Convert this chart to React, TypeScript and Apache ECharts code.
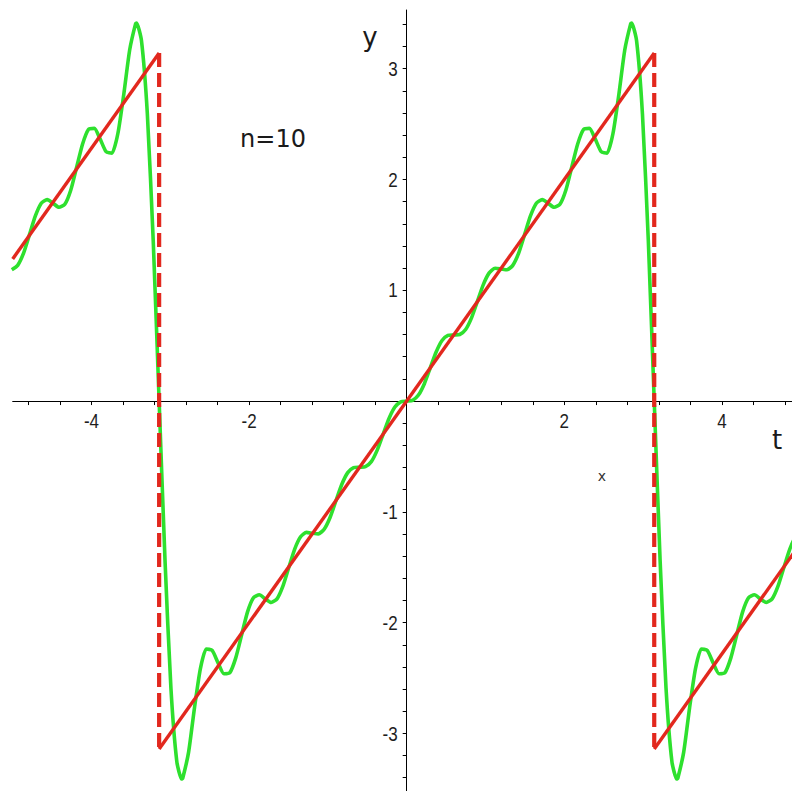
import React, { useEffect, useRef } from "react";
import * as echarts from "echarts";

// Fourier partial sum (n=10): t and y
const greenT = [
  -5.0116, -4.9368, -4.862, -4.7872, -4.7124, -4.6376, -4.5628, -4.488, -4.4132, -4.3384,
  -4.2636, -4.1888, -4.114, -4.0392, -3.9644, -3.8896, -3.8148, -3.74, -3.6652, -3.5904,
  -3.5156, -3.4408, -3.4272, -3.366, -3.2912, -3.2164, -3.1416,
  -3.0668, -2.992, -2.9172, -2.856, -2.8424, -2.7676, -2.6928, -2.618, -2.5432, -2.4684,
  -2.3936, -2.3188, -2.244, -2.1692, -2.0944, -2.0196, -1.9448, -1.87, -1.7952, -1.7204,
  -1.6456, -1.5708, -1.496, -1.4212, -1.3464, -1.2716, -1.1968, -1.122, -1.0472, -0.9724,
  -0.8976, -0.8228, -0.748, -0.6732, -0.5984, -0.5236, -0.4488, -0.374, -0.2992, -0.2244,
  -0.1496, -0.0748, 0,
  0.0748, 0.1496, 0.2244, 0.2992, 0.374, 0.4488, 0.5236, 0.5984, 0.6732, 0.748,
  0.8228, 0.8976, 0.9724, 1.0472, 1.122, 1.1968, 1.2716, 1.3464, 1.4212, 1.496,
  1.5708, 1.6456, 1.7204, 1.7952, 1.87, 1.9448, 2.0196, 2.0944, 2.1692, 2.244,
  2.3188, 2.3936, 2.4684, 2.5432, 2.618, 2.6928, 2.7676, 2.8424, 2.856, 2.9172,
  2.992, 3.0668, 3.1416,
  3.2164, 3.2912, 3.366, 3.4272, 3.4408, 3.5156, 3.5904, 3.6652, 3.74, 3.8148,
  3.8896, 3.9644, 4.0392, 4.114, 4.1888, 4.2636, 4.3384, 4.4132, 4.488, 4.5628,
  4.6376, 4.7124, 4.7872, 4.862, 4.9368, 5.0116,
];
const greenY = [
  1.185, 1.225, 1.336, 1.502, 1.671, 1.786, 1.818, 1.786, 1.749, 1.776,
  1.903, 2.11, 2.318, 2.451, 2.461, 2.364, 2.251, 2.238, 2.415, 2.768,
  3.169, 3.405, 3.412, 3.255, 2.592, 1.443, 0,
  -1.443, -2.592, -3.255, -3.412, -3.405, -3.169, -2.768, -2.415, -2.238, -2.251,
  -2.364, -2.461, -2.451, -2.318, -2.11, -1.903, -1.776, -1.749, -1.786, -1.818,
  -1.786, -1.671, -1.502, -1.336, -1.225, -1.185, -1.193, -1.199, -1.157, -1.051,
  -0.9, -0.751, -0.646, -0.601, -0.597, -0.592, -0.547, -0.443, -0.3, -0.157,
  -0.054, -0.007, 0,
  0.007, 0.054, 0.157, 0.3, 0.443, 0.547, 0.592, 0.597, 0.601, 0.646,
  0.751, 0.9, 1.051, 1.157, 1.199, 1.193, 1.185, 1.225, 1.336, 1.502,
  1.671, 1.786, 1.818, 1.786, 1.749, 1.776, 1.903, 2.11, 2.318, 2.451,
  2.461, 2.364, 2.251, 2.238, 2.415, 2.768, 3.169, 3.405, 3.412, 3.255,
  2.592, 1.443, 0,
  -1.443, -2.592, -3.255, -3.412, -3.405, -3.169, -2.768, -2.415, -2.238, -2.251,
  -2.364, -2.461, -2.451, -2.318, -2.11, -1.903, -1.776, -1.749, -1.786, -1.818,
  -1.786, -1.671, -1.502, -1.336, -1.225, -1.185,
];

// Sawtooth (red): solid pieces and dashed jumps
const redLeftT = [-5, -3.1416];
const redLeftY = [1.2832, 3.1416];
const redMidT = [-3.1416, 3.1416];
const redMidY = [-3.1416, 3.1416];
const redRightT = [3.1416, 5];
const redRightY = [-3.1416, -1.2832];
const jumpLeftT = [-3.1416, -3.1416];
const jumpLeftY = [3.1416, -3.1416];
const jumpRightT = [3.1416, 3.1416];
const jumpRightY = [3.1416, -3.1416];

// Axis ticks and labels
const xTicks = [
  -4.8, -4.4, -4, -3.6, -3.2, -2.8, -2.4, -2, -1.6, -1.2, -0.8, -0.4,
  0.4, 0.8, 1.2, 1.6, 2, 2.4, 2.8, 3.2, 3.6, 4, 4.4, 4.8,
];
const xLabels = [-4, -2, 2, 4];
const yTicks = [
  -3.4, -3.2, -3, -2.8, -2.6, -2.4, -2.2, -2, -1.8, -1.6, -1.4, -1.2, -1, -0.8, -0.6, -0.4, -0.2,
  0.2, 0.4, 0.6, 0.8, 1, 1.2, 1.4, 1.6, 1.8, 2, 2.2, 2.4, 2.6, 2.8, 3, 3.2, 3.4,
];
const yLabels = [-3, -2, -1, 1, 2, 3];

const zip = (a: number[], b: number[]) => a.map((v, i) => [v, b[i]]);

const GREEN = "#2ee02e";
const RED = "#e2281e";
const LABEL_FONT = "'Liberation Sans', Arial, sans-serif";
const TEXT_FONT = "'DejaVu Sans', sans-serif";

export default function App() {
  const ref = useRef<HTMLDivElement>(null);

  useEffect(() => {
    if (!ref.current) return;
    const chart = echarts.init(ref.current, undefined, { renderer: "svg" });
    chart.setOption({
      animation: false,
      backgroundColor: "#ffffff",
      grid: {
        left: 12.7,
        right: 0,
        top: 10,
        bottom: 0,
        containLabel: false,
        outerBoundsMode: "none",
      },
      xAxis: {
        type: "value",
        min: -5,
        max: 4.89,
        axisLine: { onZero: true, lineStyle: { color: "#000", width: 1 } },
        axisTick: { show: true, length: 4, customValues: xTicks, lineStyle: { color: "#000", width: 1 } },
        axisLabel: { show: false },
        splitLine: { show: false },
      },
      yAxis: {
        type: "value",
        min: -3.52,
        max: 3.53,
        axisLine: { onZero: true, lineStyle: { color: "#000", width: 1 } },
        axisTick: { show: true, length: 4, customValues: yTicks, lineStyle: { color: "#000", width: 1 } },
        axisLabel: { show: false },
        splitLine: { show: false },
      },
      series: [
        {
          type: "line",
          data: zip(greenT, greenY),
          showSymbol: false,
          smooth: 0.2,
          lineStyle: { color: GREEN, width: 3.6 },
          z: 2,
        },
        {
          type: "line",
          data: zip(redLeftT, redLeftY),
          showSymbol: false,
          lineStyle: { color: RED, width: 3.4 },
          z: 3,
        },
        {
          type: "line",
          data: zip(redMidT, redMidY),
          showSymbol: false,
          lineStyle: { color: RED, width: 3.4 },
          z: 3,
        },
        {
          type: "line",
          data: zip(redRightT, redRightY),
          showSymbol: false,
          lineStyle: { color: RED, width: 3.4 },
          z: 3,
        },
        {
          type: "line",
          data: zip(jumpLeftT, jumpLeftY),
          showSymbol: false,
          lineStyle: { color: RED, width: 4.2, type: [14, 6] },
          z: 3,
        },
        {
          type: "line",
          data: zip(jumpRightT, jumpRightY),
          showSymbol: false,
          lineStyle: { color: RED, width: 4.2, type: [14, 6] },
          z: 3,
        },
      ],
    });

    // Tick labels placed next to the axes (which cross at the origin), using the chart's own scales
    const labelStyle = { fontSize: 17, fontFamily: LABEL_FONT, fill: "#1e1e1e" };
    const graphics: any[] = [];
    xLabels.forEach((v, i) => {
      const p = chart.convertToPixel({ gridIndex: 0 }, [v, 0]) as number[];
      graphics.push({
        type: "text",
        id: "xl" + i,
        x: p[0],
        y: p[1] + 9,
        scaleY: 1.22,
        style: { text: String(v), align: "center", verticalAlign: "top", ...labelStyle },
      });
    });
    yLabels.forEach((v, i) => {
      const p = chart.convertToPixel({ gridIndex: 0 }, [0, v]) as number[];
      graphics.push({
        type: "text",
        id: "yl" + i,
        x: p[0] - 9,
        y: p[1],
        scaleY: 1.22,
        style: { text: String(v), align: "right", verticalAlign: "middle", ...labelStyle },
      });
    });
    graphics.push(
      {
        type: "text",
        id: "title",
        x: 273,
        y: 139,
        style: { text: "n=10", fontSize: 24, fontFamily: TEXT_FONT, fill: "#1a1a1a", align: "center", verticalAlign: "middle" },
      },
      {
        type: "text",
        id: "yname",
        x: 370,
        y: 37,
        style: { text: "y", fontSize: 26, fontFamily: TEXT_FONT, fill: "#1a1a1a", align: "center", verticalAlign: "middle" },
      },
      {
        type: "text",
        id: "tname",
        x: 777,
        y: 440,
        style: { text: "t", fontSize: 26, fontFamily: TEXT_FONT, fill: "#1a1a1a", align: "center", verticalAlign: "middle" },
      },
      {
        type: "text",
        id: "xmark",
        x: 602,
        y: 476,
        style: { text: "x", fontSize: 14, fontFamily: TEXT_FONT, fill: "#333333", align: "center", verticalAlign: "middle" },
      }
    );
    chart.setOption({ graphic: graphics });

    return () => chart.dispose();
  }, []);

  return (
    <div
      ref={ref}
      style={{ position: "fixed", left: 0, top: 0, width: 792, height: 791, background: "#fff" }}
    />
  );
}
